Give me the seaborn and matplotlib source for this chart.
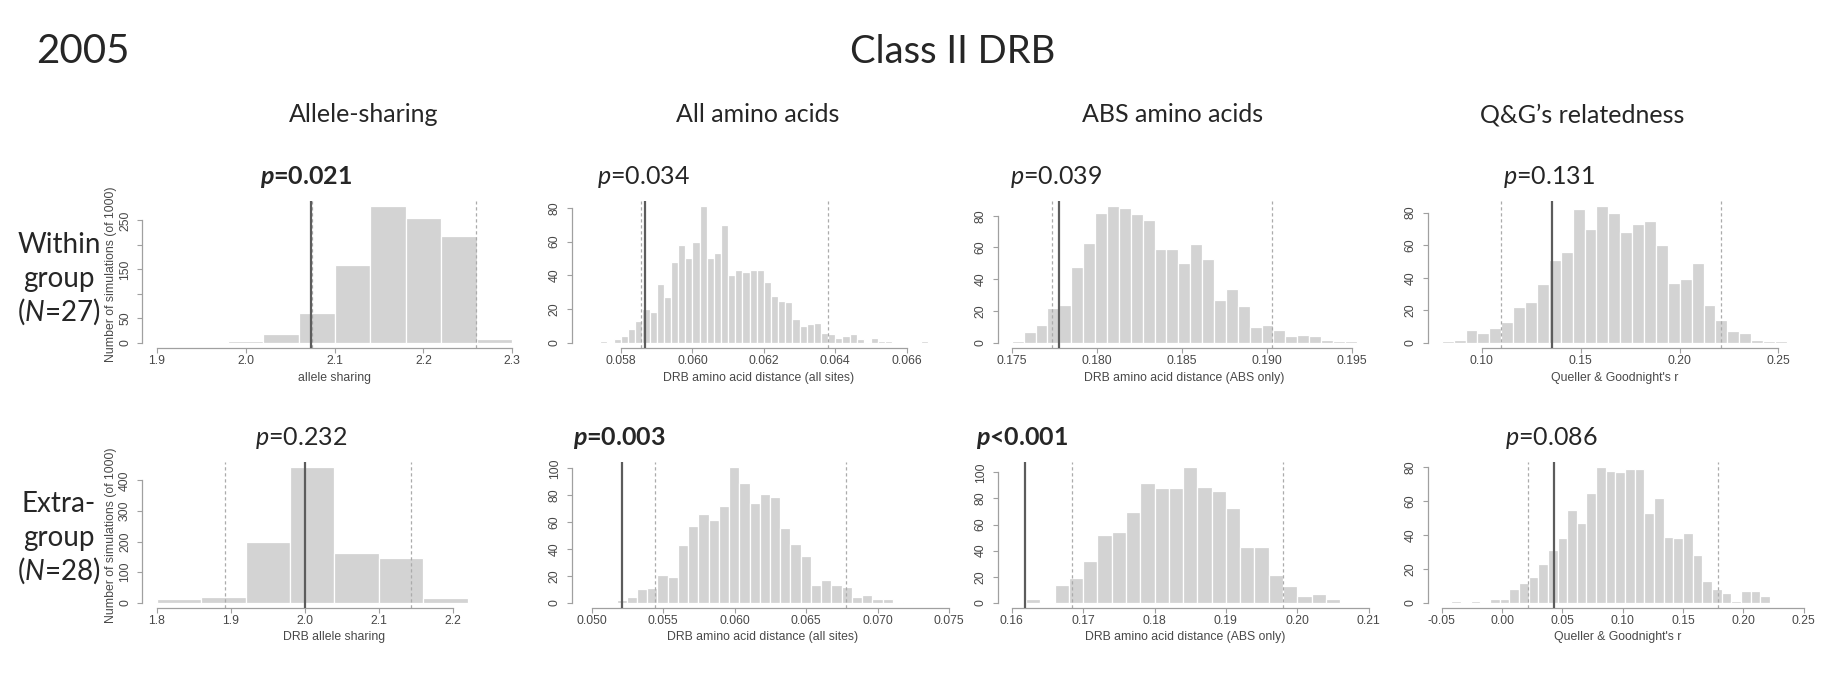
import numpy as np
import pandas as pd
import matplotlib
matplotlib.use("Agg")
import matplotlib.pyplot as plt
import seaborn as sns

# ---------------------------------------------------------------
# Simulated null distributions (1000 simulations each).
# Each histogram: first bin edge, bin width, counts per bin,
# observed value (solid line), 2.5% / 97.5% quantiles (dashed).
# ---------------------------------------------------------------

# Within group (N=27)
within_allele_start, within_allele_width = 1.94, 0.04
within_allele_counts = [2, 3, 18, 60, 158, 279, 254, 218, 8]
within_allele_lines = (2.0738, 2.0745, 2.2593)

within_aa_start, within_aa_width = 0.0574, 0.0002
within_aa_counts = [1, 0, 2, 4, 8, 13, 20, 18, 35, 27, 48, 58, 50, 60, 81, 50,
                    53, 70, 40, 43, 42, 43, 43, 36, 28, 25, 24, 14, 10, 11, 12,
                    6, 5, 3, 4, 5, 2, 0, 3, 1, 1, 0, 0, 0, 0, 1]
within_aa_lines = (0.05867, 0.05855, 0.06380)

within_abs_start, within_abs_width = 0.175, 0.0007
within_abs_counts = [1, 7, 11, 22, 24, 48, 63, 82, 86, 85, 81, 77, 59, 59, 50,
                     62, 53, 27, 34, 23, 10, 11, 8, 4, 5, 4, 2, 1, 1]
within_abs_lines = (0.17780, 0.17735, 0.19033)

within_qg_start, within_qg_width = 0.07978, 0.006016
within_qg_counts = [1, 2, 8, 6, 9, 13, 22, 25, 36, 51, 56, 82, 70, 84, 80, 68,
                    73, 75, 60, 37, 39, 49, 23, 14, 7, 6, 2, 1, 1]
within_qg_lines = (0.13539, 0.10977, 0.22083)

# Extra-group (N=28)
extra_allele_start, extra_allele_width = 1.80, 0.06
extra_allele_counts = [11, 19, 200, 443, 163, 147, 17]
extra_allele_lines = (2.0000, 1.8921, 2.1433)

extra_aa_start, extra_aa_width = 0.050303, 0.0007153
extra_aa_counts = [1, 1, 2, 4, 10, 11, 21, 19, 43, 57, 66, 62, 72, 101, 89, 74,
                   81, 79, 56, 44, 35, 13, 17, 13, 12, 4, 6, 3, 3, 0, 1]
extra_aa_lines = (0.05212, 0.05440, 0.06778)

extra_abs_start, extra_abs_width = 0.162, 0.002
extra_abs_counts = [3, 1, 14, 19, 32, 52, 54, 70, 92, 88, 88, 104, 89, 86, 73,
                    43, 43, 21, 13, 5, 7, 3]
extra_abs_lines = (0.16182, 0.16845, 0.19800)

extra_qg_start, extra_qg_width = -0.042, 0.008
extra_qg_counts = [1, 0, 1, 0, 2, 2, 8, 12, 15, 23, 31, 38, 55, 47, 65, 80, 78,
                   77, 79, 79, 53, 62, 39, 38, 41, 28, 13, 8, 6, 1, 7, 7, 4]
extra_qg_lines = (0.04337, 0.02182, 0.17873)

# Axis ticks and labels
xticks_allele_within = [1.9, 2.0, 2.1, 2.2, 2.3]
xticks_aa_within = [0.058, 0.060, 0.062, 0.064, 0.066]
xticks_abs_within = [0.175, 0.180, 0.185, 0.190, 0.195]
xticks_qg_within = [0.10, 0.15, 0.20, 0.25]
xticks_allele_extra = [1.8, 1.9, 2.0, 2.1, 2.2]
xticks_aa_extra = [0.050, 0.055, 0.060, 0.065, 0.070, 0.075]
xticks_abs_extra = [0.16, 0.17, 0.18, 0.19, 0.20, 0.21]
xticks_qg_extra = [-0.05, 0.00, 0.05, 0.10, 0.15, 0.20, 0.25]

yticks_within_allele = [0, 50, 100, 150, 200, 250]
yticks_within_allele_labels = ["0", "50", "", "150", "", "250"]
yticks_80 = [0, 20, 40, 60, 80]
yticks_100 = [0, 20, 40, 60, 80, 100]
yticks_extra_allele = [0, 100, 200, 300, 400]

xlabel_allele_within = "allele sharing"
xlabel_allele_extra = "DRB allele sharing"
xlabel_aa = "DRB amino acid distance (all sites)"
xlabel_abs = "DRB amino acid distance (ABS only)"
xlabel_qg = "Queller & Goodnight's r"
ylabel_sims = "Number of simulations (of 1000)"

column_titles = ["Allele-sharing", "All amino acids", "ABS amino acids",
                 "Q\u0026G\u2019s relatedness"]
p_values = [["0.021", "0.034", "0.039", "0.131"],
            ["0.232", "0.003", "0.001", "0.086"]]
p_relations = [["=", "=", "=", "="], ["=", "=", "<", "="]]
p_bold = [[True, False, False, False], [False, True, True, False]]

# ---------------------------------------------------------------
# Styling
# ---------------------------------------------------------------
sns.set_style("white")
plt.rcParams["font.family"] = ["Liberation Sans", "DejaVu Sans"]
plt.rcParams["mathtext.fontset"] = "custom"
plt.rcParams["mathtext.rm"] = "Lato"
plt.rcParams["mathtext.it"] = "Lato:italic"
plt.rcParams["mathtext.bf"] = "Lato:bold"
plt.rcParams["mathtext.bfit"] = "Lato:bold:italic"

BAR = "#d3d3d3"
SOLID = "#5c5c5c"
DASH = "#ababab"
AXIS = "#a0a0a0"
TICKTXT = "#484848"
SLIDE = "Lato"
AXFONT = 8.8

W, H = 1832, 684
fig = plt.figure(figsize=(W / 100, H / 100), dpi=100)
fig.patch.set_facecolor("white")

ROWS = [(200.7, 348.3), (461.7, 608.3)]
COLS = [[(141.9, 526.6), (571.7, 944.7), (997.7, 1370.7), (1427.7, 1800.7)],
        [(141.9, 526.6), (571.7, 953.3), (997.7, 1372.0), (1427.7, 1806.7)]]
XLIMS = [[(1.8834, 2.316), (0.05662, 0.067063), (0.174176, 0.196118), (0.0727, 0.26127)],
         [(1.78, 2.2995), (0.0486, 0.07528), (0.15804, 0.21046), (-0.0616, 0.2525)]]

panels = [
    [
        dict(start=within_allele_start, width=within_allele_width, counts=within_allele_counts,
             lines=within_allele_lines, xticks=xticks_allele_within, xfmt="{:.1f}",
             yticks=yticks_within_allele, ylabels=yticks_within_allele_labels,
             xlabel=xlabel_allele_within, ylabel=ylabel_sims),
        dict(start=within_aa_start, width=within_aa_width, counts=within_aa_counts,
             lines=within_aa_lines, xticks=xticks_aa_within, xfmt="{:.3f}",
             yticks=yticks_80, ylabels=None, xlabel=xlabel_aa, ylabel=None),
        dict(start=within_abs_start, width=within_abs_width, counts=within_abs_counts,
             lines=within_abs_lines, xticks=xticks_abs_within, xfmt="{:.3f}",
             yticks=yticks_80, ylabels=None, xlabel=xlabel_abs, ylabel=None),
        dict(start=within_qg_start, width=within_qg_width, counts=within_qg_counts,
             lines=within_qg_lines, xticks=xticks_qg_within, xfmt="{:.2f}",
             yticks=yticks_80, ylabels=None, xlabel=xlabel_qg, ylabel=None),
    ],
    [
        dict(start=extra_allele_start, width=extra_allele_width, counts=extra_allele_counts,
             lines=extra_allele_lines, xticks=xticks_allele_extra, xfmt="{:.1f}",
             yticks=yticks_extra_allele, ylabels=None,
             xlabel=xlabel_allele_extra, ylabel=ylabel_sims),
        dict(start=extra_aa_start, width=extra_aa_width, counts=extra_aa_counts,
             lines=extra_aa_lines, xticks=xticks_aa_extra, xfmt="{:.3f}",
             yticks=yticks_100, ylabels=None, xlabel=xlabel_aa, ylabel=None),
        dict(start=extra_abs_start, width=extra_abs_width, counts=extra_abs_counts,
             lines=extra_abs_lines, xticks=xticks_abs_extra, xfmt="{:.2f}",
             yticks=yticks_100, ylabels=None, xlabel=xlabel_abs, ylabel=None),
        dict(start=extra_qg_start, width=extra_qg_width, counts=extra_qg_counts,
             lines=extra_qg_lines, xticks=xticks_qg_extra, xfmt="{:.2f}",
             yticks=yticks_80, ylabels=None, xlabel=xlabel_qg, ylabel=None),
    ],
]


def px_axes(x0, x1, y0, y1):
    return fig.add_axes([x0 / W, 1 - y1 / H, (x1 - x0) / W, (y1 - y0) / H])


def draw_hist(ax, spec, xlim):
    counts = np.asarray(spec["counts"], dtype=float)
    edges = spec["start"] + spec["width"] * np.arange(len(counts) + 1)
    centers = 0.5 * (edges[:-1] + edges[1:])
    df = pd.DataFrame({"value": centers, "n": counts})
    sns.histplot(data=df, x="value", weights="n", bins=list(edges), ax=ax,
                 color=BAR, edgecolor="white", linewidth=0.9, alpha=1.0, zorder=1)
    obs, lo, hi = spec["lines"]
    for v in (lo, hi):
        ax.axvline(v, color=DASH, lw=0.9, ls=(0, (2.6, 2.2)), zorder=2)
    ax.axvline(obs, color=SOLID, lw=1.6, zorder=3)

    m = counts.max()
    ax.set_ylim(-0.04 * m, 1.04 * m)
    ax.set_xlim(*xlim)

    xt = spec["xticks"]
    ax.set_xticks(xt)
    ax.set_xticklabels([spec["xfmt"].format(v) for v in xt])
    yt = spec["yticks"]
    ax.set_yticks(yt)
    ylabs = spec["ylabels"] if spec["ylabels"] is not None else [str(v) for v in yt]
    ax.set_yticklabels(ylabs, rotation=90, va="center")

    for side in ("top", "right"):
        ax.spines[side].set_visible(False)
    ax.spines["bottom"].set_bounds(xt[0], xt[-1])
    ax.spines["left"].set_bounds(yt[0], yt[-1])
    for side in ("bottom", "left"):
        ax.spines[side].set_color(AXIS)
        ax.spines[side].set_linewidth(0.9)
    ax.tick_params(axis="both", bottom=True, left=True, direction="out",
                   length=3.6, width=0.8, color=AXIS, labelcolor=TICKTXT,
                   labelsize=AXFONT)
    ax.tick_params(axis="x", pad=1.4)
    ax.tick_params(axis="y", pad=4.2)

    ax.set_xlabel(spec["xlabel"], fontsize=AXFONT, color=TICKTXT)
    ax.xaxis.set_label_coords(0.5, -0.158)
    if spec["ylabel"]:
        ax.set_ylabel(spec["ylabel"], fontsize=AXFONT, color=TICKTXT)
        ax.yaxis.set_label_coords(-0.066, 0.5)
    else:
        ax.set_ylabel("")
    ax.set_facecolor("none")


for r in range(2):
    y0, y1 = ROWS[r]
    for c in range(4):
        x0, x1 = COLS[r][c]
        ax = px_axes(x0, x1, y0, y1)
        draw_hist(ax, panels[r][c], XLIMS[r][c])


def ftext(x, y, s, **kw):
    fig.text(x / W, 1 - y / H, s, **kw)


# Headings
ftext(83, 63, "2005", fontsize=29, family=SLIDE, ha="center", va="baseline")
ftext(953, 63, "Class II DRB", fontsize=27.5, family=SLIDE, ha="center", va="baseline")
for cx, title in zip([363.6, 757.5, 1173, 1582], column_titles):
    ftext(cx, 122, title, fontsize=18, family=SLIDE, ha="center", va="baseline")

# Row labels
for lines, base in [(["Within", "group", "($N$=27)"], 252.7),
                    (["Extra-", "group", "($N$=28)"], 511.7)]:
    for i, line in enumerate(lines):
        ftext(59, base + 34 * i, line, fontsize=20, family=SLIDE,
              ha="center", va="baseline")

# p-values
p_left = [[260, 596.7, 1010, 1503.3], [254.8, 573.3, 976, 1505]]
p_base = [184, 445]
for r in range(2):
    for c in range(4):
        if p_bold[r][c]:
            s = r"$\mathbfit{p}$" + p_relations[r][c] + p_values[r][c]
            ftext(p_left[r][c], p_base[r], s, fontsize=18, family=SLIDE,
                  fontweight="bold", ha="left", va="baseline")
        else:
            s = r"$p$" + p_relations[r][c] + p_values[r][c]
            ftext(p_left[r][c], p_base[r], s, fontsize=18, family=SLIDE,
                  ha="left", va="baseline")

fig.savefig("out.png", dpi=100, facecolor="white")
